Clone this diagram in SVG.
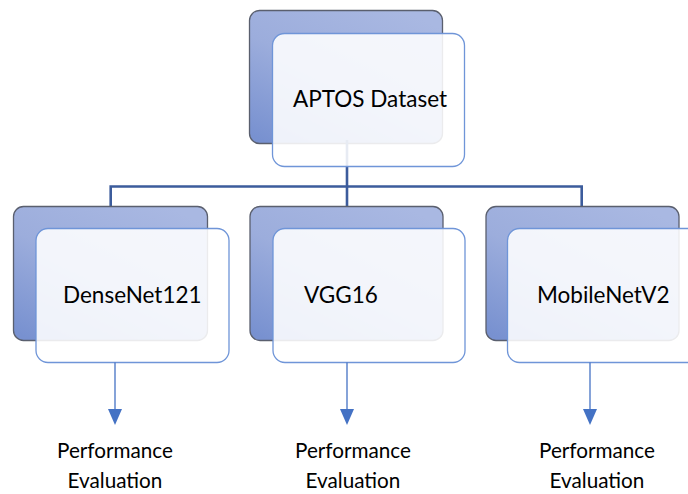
<svg xmlns="http://www.w3.org/2000/svg" width="688" height="494" viewBox="0 0 688 494">
<defs>
<linearGradient id="bg" x1="0.8" y1="0" x2="0.1" y2="1">
<stop offset="0" stop-color="#A9B8E2"/>
<stop offset="0.5" stop-color="#9CADDC"/>
<stop offset="1" stop-color="#7891D0"/>
</linearGradient>
<style>
.back{fill:url(#bg);stroke:#5A5F6E;stroke-width:1.3}
.front{fill:#ffffff;fill-opacity:0.88;stroke:#6F95D8;stroke-width:1.3}
.lbl{font-family:"Lato","Liberation Sans",sans-serif;font-size:22.5px;fill:#000}
.pe{font-family:"Lato","Liberation Sans",sans-serif;font-size:20.7px;fill:#000;text-anchor:middle}
.conn{fill:none;stroke:#3C5C9C;stroke-width:2.6}
.arrow{fill:none;stroke:#4472C4;stroke-width:1.3}
.head{fill:#4472C4}
</style>
</defs>
<rect width="688" height="494" fill="#ffffff"/>
<g id="aptos-back"><rect class="back" x="249.5" y="10.5" width="193" height="133" rx="10"/></g>
<g id="connectors">
<path class="conn" d="M347,140 V186.5 M110.7,186.5 H581.7 M110.7,185.2 V207 M347,186.5 V207 M581.7,185.2 V207"/>
</g>
<g id="aptos">
<rect class="front" x="272.5" y="33.5" width="192" height="133" rx="12"/>
<text class="lbl" x="293" y="107">APTOS Dataset</text>
</g>
<g id="densenet">
<rect class="back" x="13.5" y="206.5" width="194" height="134" rx="10"/>
<rect class="front" x="36" y="228.5" width="193" height="134" rx="12"/>
<text class="lbl" x="63" y="303">DenseNet121</text>
</g>
<g id="vgg">
<rect class="back" x="250" y="206.5" width="193" height="134" rx="10"/>
<rect class="front" x="273" y="228.5" width="192" height="134" rx="12"/>
<text class="lbl" x="304" y="303">VGG16</text>
</g>
<g id="mobilenet">
<rect class="back" x="486" y="206.5" width="193" height="134" rx="10"/>
<rect class="front" x="507.5" y="228.5" width="194" height="134" rx="12"/>
<text class="lbl" x="537" y="303">MobileNetV2</text>
</g>
<g id="arrows">
<path class="arrow" d="M115,362.5 V410"/>
<path class="head" d="M108,409 H122 L115,425 Z"/>
<path class="arrow" d="M347,362.5 V410"/>
<path class="head" d="M340,409 H354 L347,425 Z"/>
<path class="arrow" d="M590,362.5 V410"/>
<path class="head" d="M583,409 H597 L590,425 Z"/>
</g>
<g id="pe1"><text class="pe" x="115" y="458">Performance</text><text class="pe" x="115" y="488">Evaluation</text></g>
<g id="pe2"><text class="pe" x="353" y="458">Performance</text><text class="pe" x="353" y="488">Evaluation</text></g>
<g id="pe3"><text class="pe" x="597" y="458">Performance</text><text class="pe" x="597" y="488">Evaluation</text></g>
</svg>
